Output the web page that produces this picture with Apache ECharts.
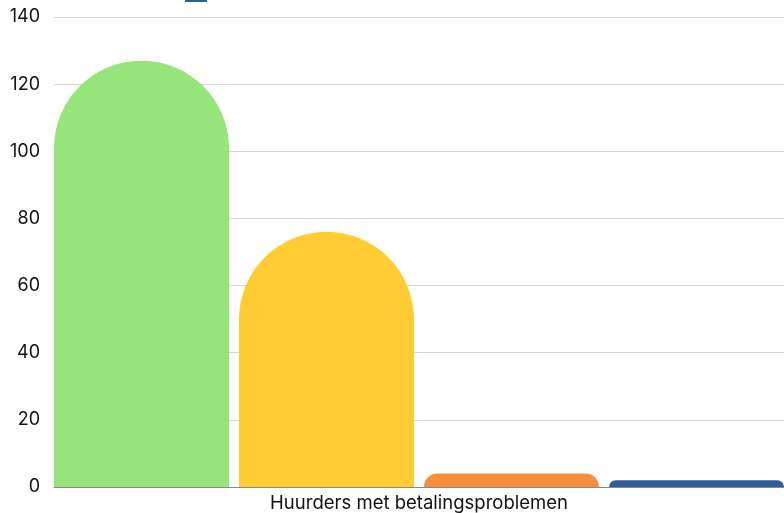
<!DOCTYPE html>
<html><head><meta charset="utf-8">
<script src="https://cdn.jsdelivr.net/npm/echarts@6/dist/echarts.min.js"></script>
<style>html,body{margin:0;padding:0;background:#fff}#c{width:784px;height:513px}</style>
</head><body><div id="c"></div>
<script>
const categories = ["Huurders met betalingsproblemen"];
const seriesNames = ["Serie 1", "Serie 2", "Serie 3", "Serie 4"];
const seriesValues = [[127], [76], [4], [2]];
const seriesColors = ["#97e47a", "#ffcc33", "#f68d3a", "#2e5e99"];
const yTicks = { min: 0, max: 140, interval: 20 };

const chart = echarts.init(document.getElementById('c'), null, {renderer: 'canvas'});
chart.setOption({
  animation: false,
  textStyle: { fontFamily: 'Inter' },
  legend: {
    data: [seriesNames[3]], left: 185, top: -12, padding: 0,
    itemWidth: 22, itemHeight: 14, icon: 'rect',
    formatter: () => ''
  },
  grid: { left: 54, right: 0, top: 17, bottom: 25, containLabel: false },
  xAxis: {
    type: 'category', data: categories,
    axisLine: { lineStyle: { color: '#888', width: 1 } },
    axisTick: { show: false },
    axisLabel: { color: '#111', fontSize: 18.5, margin: 7, fontFamily: 'Inter' }
  },
  yAxis: {
    type: 'value', min: yTicks.min, max: yTicks.max, interval: yTicks.interval,
    axisLine: { show: false }, axisTick: { show: false },
    splitLine: { lineStyle: { color: '#d6d6d6', width: 1 } },
    axisLabel: { color: '#111', fontSize: 18, margin: 14, fontFamily: 'Inter' }
  },
  series: seriesNames.map((n, i) => ({
    name: n, type: 'bar', data: seriesValues[i],
    barGap: '5.7%', barCategoryGap: '0%',
    itemStyle: { color: seriesColors[i], borderRadius: [88, 88, 0, 0] }
  }))
});
</script></body></html>
